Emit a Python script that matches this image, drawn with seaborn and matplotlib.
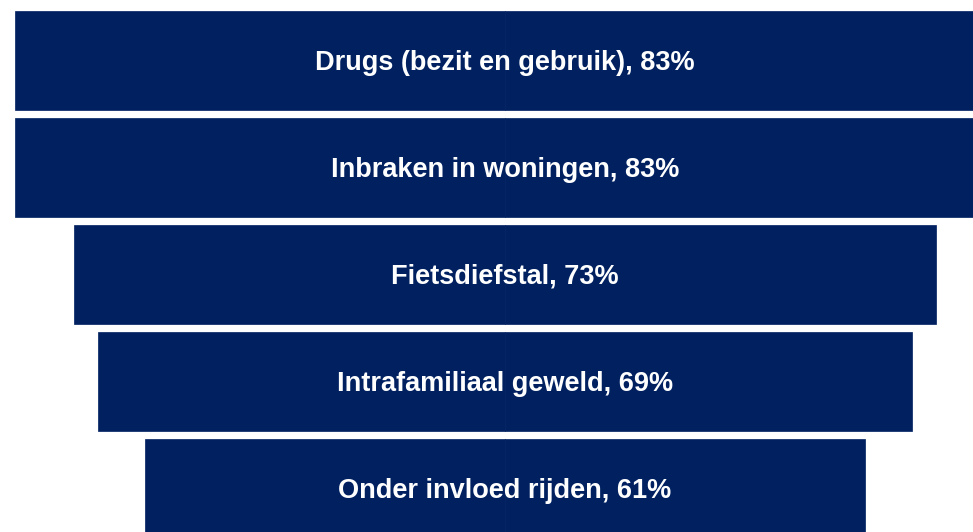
import matplotlib
matplotlib.use("Agg")
import matplotlib.pyplot as plt
import seaborn as sns
import pandas as pd

categories = ["Drugs (bezit en gebruik)", "Inbraken in woningen", "Fietsdiefstal",
              "Intrafamiliaal geweld", "Onder invloed rijden"]
values = [83, 83, 73, 69, 61]
labels = [f"{c}, {v}%" for c, v in zip(categories, values)]

color = "#002060"

sns.set_theme(style="white")
plt.rcParams["font.family"] = ["Liberation Sans", "DejaVu Sans"]

fig = plt.figure(figsize=(9.73, 5.32), dpi=100)
ax = fig.add_axes([0, 0, 1, 1])

df = pd.DataFrame({"cat": categories, "half": [v / 2 for v in values]})
df["neg"] = -df["half"]

sns.barplot(data=df, x="half", y="cat", orient="h", color=color, saturation=1,
            width=0.916, edgecolor=color, linewidth=0.5, ax=ax)
sns.barplot(data=df, x="neg", y="cat", orient="h", color=color, saturation=1,
            width=0.916, edgecolor=color, linewidth=0.5, ax=ax)

for i, lab in enumerate(labels):
    ax.text(0, i + 0.02, lab, ha="center", va="center", color="white",
            fontsize=19.5, fontweight="bold")

px = 11.8  # pixels per percent
cx = 505
ax.set_xlim((0 - cx) / px, (973 - cx) / px)
pitch = 107.0
c0 = 60.5
ax.set_ylim(0 + (532 - c0) / pitch, 0 - c0 / pitch)
ax.set_axis_off()

fig.savefig("out.png", dpi=100, facecolor="white")
